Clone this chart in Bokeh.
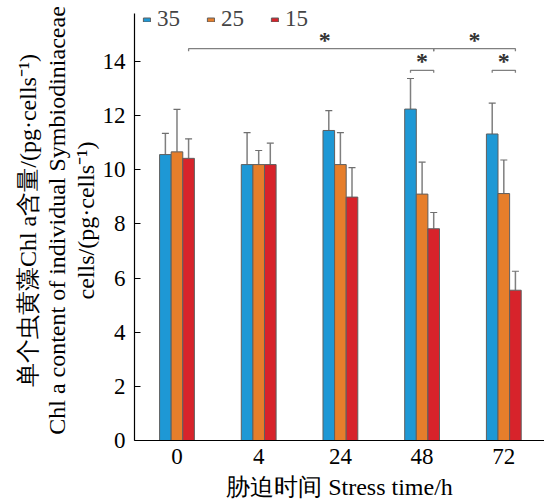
import numpy as np
from bokeh.plotting import figure
from bokeh.models import (ColumnDataSource, Whisker, TeeHead, Legend, LegendItem,
                          FixedTicker, Title, Range1d)
from bokeh.embed import file_html
from bokeh.resources import INLINE

# ---- data ----
times = ["0", "4", "24", "48", "72"]
series = ["35", "25", "15"]
v35 = [10.56, 10.19, 11.45, 12.24, 11.32]
e35 = [0.78, 1.18, 0.73, 1.13, 1.14]
v25 = [10.66, 10.19, 10.19, 9.10, 9.12]
e25 = [1.57, 0.52, 1.18, 1.18, 1.24]
v15 = [10.42, 10.19, 8.99, 7.82, 5.55]
e15 = [0.72, 0.79, 1.09, 0.60, 0.70]
y_ticks = [0, 2, 4, 6, 8, 10, 12, 14]
y_axis_top = 15.77

# significance brackets: (group_a, series_a, group_b, series_b, level, star position fraction)
brackets = [
    (0, 2, 3, 2, 14.47, 0.556),
    (3, 2, 4, 2, 14.47, 0.5),
    (3, 0, 3, 2, 13.67, 0.5),
    (4, 0, 4, 2, 13.67, 0.5),
]

colors = ["#1e98d5", "#e67e2b", "#d7232b"]
FONT = "Liberation Serif"
FS = "23px"

bw = 0.142
offsets = [-bw, 0.0, bw]
xs = np.arange(len(times))

p = figure(width=544, height=502, output_backend="svg", toolbar_location=None,
           x_range=Range1d(-0.52, 4.498), y_range=Range1d(0, 16.25),
           min_border_left=134, min_border_right=0, min_border_top=0,
           min_border_bottom=62)
p.outline_line_color = None
p.xgrid.visible = False
p.ygrid.visible = False
p.background_fill_color = "white"
p.border_fill_color = "white"

vals = [v35, v25, v15]
errs = [e35, e25, e15]
renderers = []
for k in range(3):
    src = ColumnDataSource(dict(x=xs + offsets[k], top=vals[k],
                                up=np.array(vals[k]) + np.array(errs[k])))
    r = p.vbar(x="x", top="top", width=bw, bottom=0, source=src,
               fill_color=colors[k], line_color="#5f5f5f", line_width=1)
    renderers.append(r)
    w = Whisker(base="x", lower="top", upper="up", source=src, dimension="height",
                line_color="#7f7f7f", line_width=1.5,
                upper_head=TeeHead(size=7, line_color="#6f6f6f", line_width=1.2),
                lower_head=None, level="underlay")
    p.add_layout(w)

# brackets
bx, by, sx, sy = [], [], [], []
for ga, sa, gb, sb, lvl, frac in brackets:
    x1 = ga + offsets[sa]
    x2 = gb + offsets[sb]
    bx.append([x1, x1, x2, x2])
    by.append([lvl - 0.09, lvl, lvl, lvl - 0.09])
    sx.append(x1 + (x2 - x1) * frac)
    sy.append(lvl + 0.33)
p.multi_line(xs=bx, ys=by, line_color="#808080", line_width=1.3)
p.text(x=sx, y=sy, text=["*"] * len(sx), text_align="center",
       text_baseline="alphabetic", text_font=FONT, text_font_size="24px",
       text_font_style="bold", text_color="#333333")

# axes
p.xaxis.ticker = FixedTicker(ticks=list(xs))
p.xaxis.major_label_overrides = {int(i): t for i, t in zip(xs, times)}
p.xaxis.major_tick_in = 0
p.xaxis.major_tick_out = 0
p.xaxis.minor_tick_line_color = None
p.xaxis.major_label_standoff = 8
p.xaxis.axis_label = "胁迫时间 Stress time/h"
p.xaxis.axis_label_standoff = 7
p.yaxis.ticker = FixedTicker(ticks=y_ticks)
p.yaxis.bounds = (0, y_axis_top)
p.yaxis.major_tick_in = 6
p.yaxis.major_tick_out = 0
p.yaxis.minor_tick_line_color = None
p.yaxis.major_label_standoff = 9
for ax in (p.xaxis[0], p.yaxis[0]):
    ax.axis_line_color = "black"
    ax.axis_line_width = 1.2
    ax.major_tick_line_color = "black"
    ax.major_label_text_font = FONT
    ax.major_label_text_font_size = FS
    ax.major_label_text_color = "black"
    ax.axis_label_text_font = FONT
    ax.axis_label_text_font_size = "24px"
    ax.axis_label_text_font_style = "normal"
    ax.axis_label_text_color = "black"

# multi-line y title (innermost first)
ylines = ["cells/(pg·cells⁻¹)",
          "Chl a content of individual Symbiodiniaceae",
          "单个虫黄藻Chl a含量/(pg·cells⁻¹)"]
for t in ylines:
    p.add_layout(Title(text=t, align="center", text_font=FONT, text_font_size="24px",
                       text_font_style="normal", text_color="black", standoff=1), "left")

legend = Legend(items=[LegendItem(label=s, renderers=[r]) for s, r in zip(series, renderers)],
                orientation="horizontal", location=(8, 408), glyph_width=9, glyph_height=5,
                label_standoff=6, spacing=26, padding=0, margin=0,
                border_line_color=None, background_fill_alpha=0,
                label_text_font=FONT, label_text_font_size=FS)
p.add_layout(legend)

open("out.html", "w").write(file_html(p, INLINE))
